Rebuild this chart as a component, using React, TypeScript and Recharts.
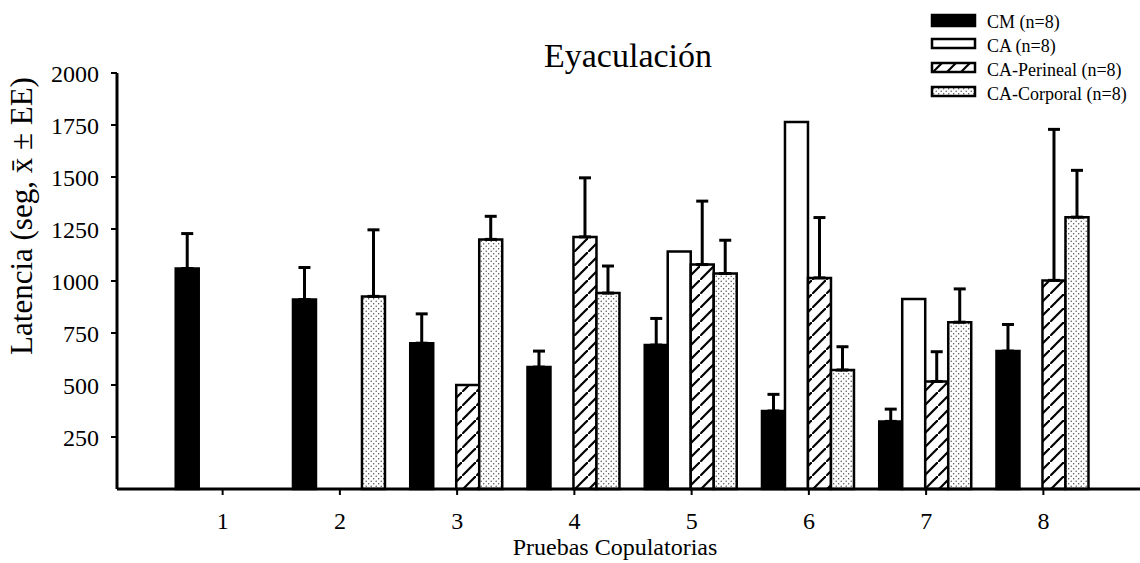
import { Bar, BarChart, ErrorBar, Legend, XAxis, YAxis } from 'recharts';

// Pruebas copulatorias 1..8, latency to ejaculation (s), mean and SE
const categories = ['1', '2', '3', '4', '5', '6', '7', '8'];
const cmMean = [1060, 911, 701, 586, 692, 375, 325, 663];
const cmErr = [168, 154, 141, 77, 128, 80, 59, 128];
const caMean = [null, null, null, null, 1142, 1765, 913, null];
const perinealMean = [null, null, 500, 1212, 1079, 1015, 517, 1003];
const perinealErr = [null, null, null, 284, 305, 290, 143, 726];
const corporalMean = [null, 926, 1200, 942, 1036, 572, 802, 1307];
const corporalErr = [null, 320, 111, 130, 160, 112, 160, 225];
const yTicks = [250, 500, 750, 1000, 1250, 1500, 1750, 2000];

const FONT = "'Liberation Serif', 'Times New Roman', serif";

// only the upper half of the SE is drawn
const upper = (e: number | null) => (e == null ? null : [0, e]);

const data = categories.map((prueba, i) => ({
  prueba,
  cm: cmMean[i],
  cmErr: upper(cmErr[i]),
  ca: caMean[i],
  perineal: perinealMean[i],
  perinealErr: upper(perinealErr[i]),
  corporal: corporalMean[i],
  corporalErr: upper(corporalErr[i]),
}));

const SERIES = [
  { key: 'cm', err: 'cmErr', name: 'CM (n=8)', fill: '#000' },
  { key: 'ca', err: null, name: 'CA (n=8)', fill: '#fff' },
  { key: 'perineal', err: 'perinealErr', name: 'CA-Perineal (n=8)', fill: 'url(#hatch)' },
  { key: 'corporal', err: 'corporalErr', name: 'CA-Corporal (n=8)', fill: 'url(#dots)' },
];

function LegendBox() {
  return (
    <svg width={210} height={100} style={{ fontFamily: FONT }}>
      {SERIES.map((s, i) => (
        <g key={s.key} transform={`translate(0, ${i * 24})`}>
          <rect x={2} y={2} width={43} height={i === 0 ? 11 : 9} fill={s.fill} stroke="#000" strokeWidth={2.5} />
          <text x={57} y={15} fontSize={18} fill="#000">
            {s.name}
          </text>
        </g>
      ))}
    </svg>
  );
}

export default function App() {
  return (
    <div style={{ position: 'absolute', left: 0, top: 0, width: 1140, height: 563, background: '#fff' }}>
      <BarChart
        width={1140}
        height={563}
        data={data}
        margin={{ top: 73, right: 0, bottom: 0, left: 0 }}
        barCategoryGap="10%"
        barGap={0}
        style={{ fontFamily: FONT }}
      >
        <XAxis
          dataKey="prueba"
          height={74}
          padding={{ left: 47, right: 38 }}
          axisLine={{ stroke: '#000', strokeWidth: 3 }}
          tickLine={{ stroke: '#000', strokeWidth: 2 }}
          tickSize={6}
          tickMargin={17}
          tick={{ fill: '#000', fontSize: 24, fontFamily: FONT }}
        />
        <YAxis
          width={117}
          domain={[0, 2000]}
          ticks={yTicks}
          interval={0}
          axisLine={{ stroke: '#000', strokeWidth: 3 }}
          tickLine={{ stroke: '#000', strokeWidth: 2 }}
          tickSize={6}
          tickMargin={12}
          tick={{ fill: '#000', fontSize: 24, fontFamily: FONT }}
        />
        <Legend
          layout="horizontal"
          verticalAlign="middle"
          align="center"
          wrapperStyle={{ top: 13, left: 930, width: 210, height: 100 }}
          content={() => <LegendBox />}
        />
        {SERIES.map((s) => (
          <Bar
            key={s.key}
            dataKey={s.key}
            name={s.name}
            fill={s.fill}
            stroke="#000"
            strokeWidth={2.5}
            isAnimationActive={false}
          >
            {s.err && <ErrorBar dataKey={s.err} direction="y" width={6} stroke="#000" strokeWidth={3} />}
          </Bar>
        ))}
      </BarChart>
      <svg
        width={1140}
        height={563}
        style={{ position: 'absolute', left: 0, top: 0, pointerEvents: 'none', fontFamily: FONT }}
      >
        <defs>
          <pattern id="hatch" patternUnits="userSpaceOnUse" width={14} height={14}>
            <rect width={14} height={14} fill="#fff" />
            <line x1={-2} y1={16} x2={16} y2={-2} stroke="#000" strokeWidth={2.2} />
          </pattern>
          <pattern id="dots" patternUnits="userSpaceOnUse" width={5} height={5}>
            <rect width={5} height={5} fill="#fff" />
            <circle cx={1.2} cy={1.2} r={0.7} fill="#444" />
            <circle cx={3.7} cy={3.7} r={0.7} fill="#444" />
          </pattern>
        </defs>
        <text x={628} y={67} textAnchor="middle" fontSize={34} fill="#000">
          Eyaculación
        </text>
        <text x={615} y={555} textAnchor="middle" fontSize={24} fill="#000">
          Pruebas Copulatorias
        </text>
        <text transform="translate(32, 216) rotate(-90)" textAnchor="middle" fontSize={31} fill="#000">
          Latencia (seg, x̄ ± EE)
        </text>
      </svg>
    </div>
  );
}
